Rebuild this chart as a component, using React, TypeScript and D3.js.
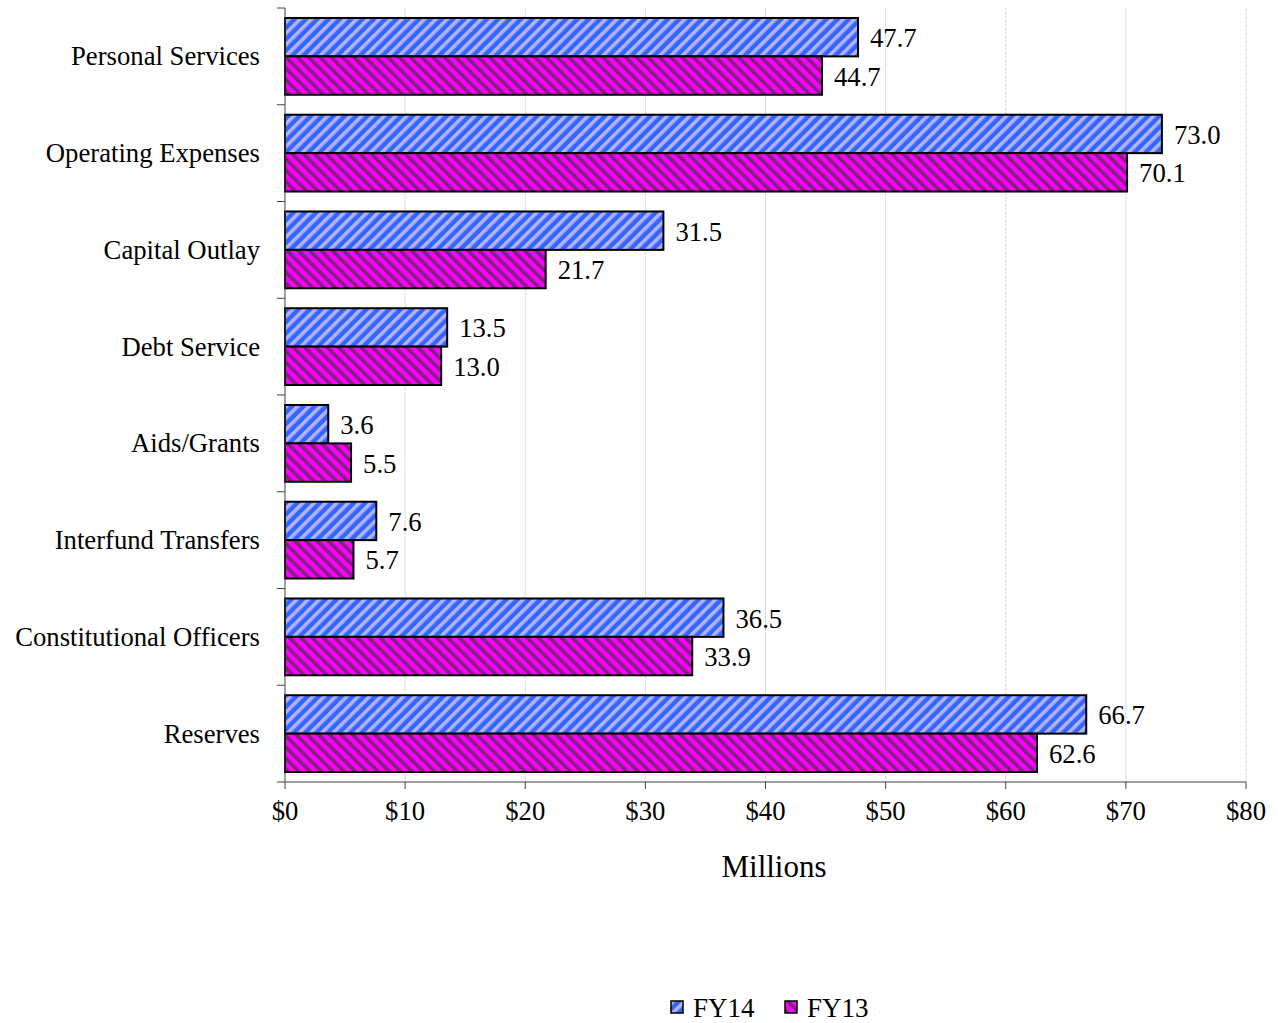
import React from 'react';
import * as d3 from 'd3';

const categories = [
  'Personal Services',
  'Operating Expenses',
  'Capital Outlay',
  'Debt Service',
  'Aids/Grants',
  'Interfund Transfers',
  'Constitutional Officers',
  'Reserves',
];
const seriesNames = ['FY14', 'FY13'];
const fy14 = [47.7, 73.0, 31.5, 13.5, 3.6, 7.6, 36.5, 66.7];
const fy13 = [44.7, 70.1, 21.7, 13.0, 5.5, 5.7, 33.9, 62.6];
const xTicks = [0, 10, 20, 30, 40, 50, 60, 70, 80];

const W = 1278;
const H = 1023;
const FONT = '"Liberation Serif", "Times New Roman", serif';

const App: React.FC = () => {
  const x = d3.scaleLinear().domain([0, 80]).range([285, 1246]);
  const y = d3.scaleBand<string>().domain(categories).range([8, 782]).padding(0);
  const inner = d3.scaleBand<string>().domain(seriesNames).range([0, y.bandwidth()]).paddingInner(0).paddingOuter(0.26);

  const series = [
    { name: 'FY14', values: fy14, fill: 'url(#patBlue)' },
    { name: 'FY13', values: fy13, fill: 'url(#patMag)' },
  ];

  const bounds = categories.map(c => y(c) as number).concat([y.range()[1]]);
  const [x0, x1] = x.range();
  const yBottom = y.range()[1];

  return (
    <div style={{ position: 'absolute', left: 0, top: 0 }}>
      <svg width={W} height={H} style={{ display: 'block', background: '#fff' }} fontFamily={FONT}>
        <defs>
          <pattern id="patBlue" patternUnits="userSpaceOnUse" width={8} height={10} patternTransform="rotate(45)">
            <rect width={8} height={10} fill="#3366FF" />
            <rect width={3.6} height={10} fill="#B3B3FF" />
          </pattern>
          <pattern id="patMag" patternUnits="userSpaceOnUse" width={8} height={10} patternTransform="rotate(-45)">
            <rect width={8} height={10} fill="#FF00FF" />
            <rect width={3.6} height={10} fill="#802080" />
          </pattern>
        </defs>

        {/* gridlines */}
        {xTicks.slice(1).map(t => (
          <line key={t} x1={x(t)} x2={x(t)} y1={8} y2={yBottom} stroke="#C4D6EE" strokeWidth={1} strokeDasharray="3,1" />
        ))}

        {/* bars */}
        {series.map(s => (
          <g key={s.name}>
            {categories.map((c, i) => {
              const by = (y(c) as number) + (inner(s.name) as number);
              return (
                <rect key={c} x={x(0)} y={by} width={x(s.values[i]) - x(0)} height={inner.bandwidth()}
                  fill={s.fill} stroke="#000" strokeWidth={2} />
              );
            })}
            {categories.map((c, i) => {
              const by = (y(c) as number) + (inner(s.name) as number) + inner.bandwidth() / 2;
              return (
                <text key={c} x={x(s.values[i]) + 12} y={by + 10} fontSize={26.7} fill="#000">
                  {s.values[i].toFixed(1)}
                </text>
              );
            })}
          </g>
        ))}

        {/* left axis */}
        <line x1={x0} x2={x0} y1={8} y2={yBottom} stroke="#404040" strokeWidth={1} />
        {bounds.map((b, i) => (
          <line key={i} x1={x0 - 8} x2={x0} y1={b} y2={b} stroke="#404040" strokeWidth={1} />
        ))}
        {categories.map(c => (
          <text key={c} x={260} y={(y(c) as number) + y.bandwidth() / 2 + 9} textAnchor="end" fontSize={26.7} fill="#000">
            {c}
          </text>
        ))}

        {/* bottom axis */}
        <line x1={x0} x2={x1} y1={yBottom} y2={yBottom} stroke="#404040" strokeWidth={1} />
        {xTicks.map(t => (
          <g key={t}>
            <line x1={x(t)} x2={x(t)} y1={yBottom} y2={yBottom + 7} stroke="#404040" strokeWidth={1} />
            <text x={x(t)} y={yBottom + 38} textAnchor="middle" fontSize={26.7} fill="#000">{`$${t}`}</text>
          </g>
        ))}
        <text x={774} y={877} textAnchor="middle" fontSize={31} fill="#000">Millions</text>

        {/* legend */}
        {series.map((s, i) => (
          <g key={s.name} transform={`translate(${671 + i * 114}, 1001)`}>
            <rect x={0} y={0} width={12} height={12} fill={s.fill} stroke="#000" strokeWidth={1.5} />
            <text x={22} y={16} fontSize={27} fill="#000">{s.name}</text>
          </g>
        ))}
      </svg>
    </div>
  );
};

export default App;
